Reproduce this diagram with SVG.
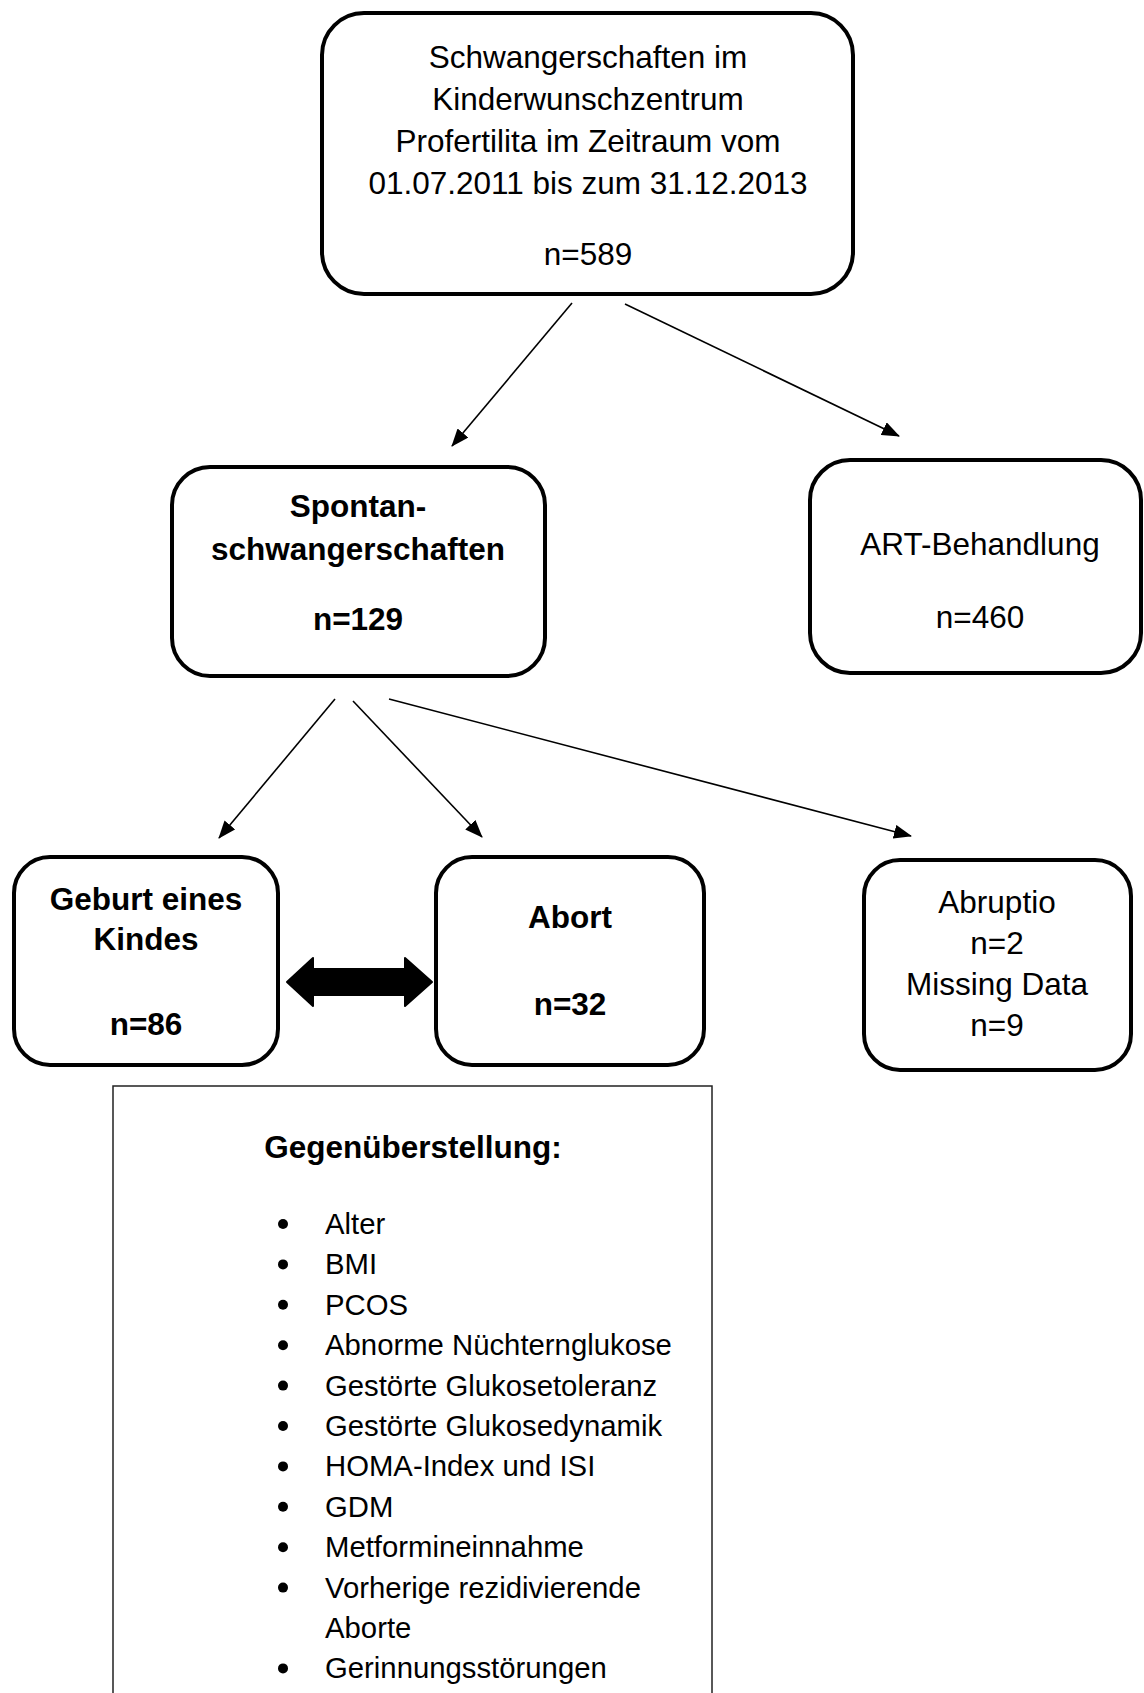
<svg xmlns="http://www.w3.org/2000/svg" width="1144" height="1693" viewBox="0 0 1144 1693">
<defs>
<style>
.box{fill:#fff;stroke:#000;stroke-width:4}
.t{font-family:"Liberation Sans",Arial,sans-serif;font-size:31.5px;fill:#000;text-anchor:middle}
.b{font-weight:bold}
.li{font-family:"Liberation Sans",Arial,sans-serif;font-size:29.3px;fill:#000}
.con{stroke:#000;stroke-width:1.6;fill:none;marker-end:url(#ah)}
</style>
<marker id="ah" markerUnits="userSpaceOnUse" markerWidth="18" markerHeight="14" refX="17" refY="7" orient="auto">
<path d="M0,0 L18,7 L0,14 z" fill="#000"/>
</marker>
</defs>
<rect width="1144" height="1693" fill="#fff"/>
<g id="connectors">
<line class="con" x1="572" y1="303" x2="452" y2="446"/>
<line class="con" x1="625" y1="304" x2="899" y2="436"/>
<line class="con" x1="335" y1="699" x2="219" y2="838"/>
<line class="con" x1="353" y1="701" x2="482" y2="837"/>
<line class="con" x1="389" y1="699" x2="911" y2="836"/>
<polygon points="287,982 313,958 313,969 405,969 405,958 432,982 405,1006 405,995 313,995 313,1006" fill="#000" stroke="#000" stroke-width="2" stroke-linejoin="round"/>
</g>
<g id="top">
<rect class="box" x="322" y="13" width="531" height="281" rx="42"/>
<text class="t" x="588" y="68">Schwangerschaften im</text>
<text class="t" x="588" y="110">Kinderwunschzentrum</text>
<text class="t" x="588" y="152">Profertilita im Zeitraum vom</text>
<text class="t" x="588" y="194">01.07.2011 bis zum 31.12.2013</text>
<text class="t" x="588" y="265">n=589</text>
</g>
<g id="spontan">
<rect class="box" x="172" y="467" width="373" height="209" rx="38"/>
<text class="t b" x="358" y="517">Spontan-</text>
<text class="t b" x="358" y="560">schwangerschaften</text>
<text class="t b" x="358" y="630">n=129</text>
</g>
<g id="art">
<rect class="box" x="810" y="460" width="331" height="213" rx="40"/>
<text class="t" x="980" y="555">ART-Behandlung</text>
<text class="t" x="980" y="628">n=460</text>
</g>
<g id="geburt">
<rect class="box" x="14" y="857" width="264" height="208" rx="36"/>
<text class="t b" x="146" y="910">Geburt eines</text>
<text class="t b" x="146" y="950">Kindes</text>
<text class="t b" x="146" y="1035">n=86</text>
</g>
<g id="abort">
<rect class="box" x="436" y="857" width="268" height="208" rx="36"/>
<text class="t b" x="570" y="928">Abort</text>
<text class="t b" x="570" y="1015">n=32</text>
</g>
<g id="abruptio">
<rect class="box" x="864" y="860" width="267" height="210" rx="36"/>
<text class="t" x="997" y="913">Abruptio</text>
<text class="t" x="997" y="954">n=2</text>
<text class="t" x="997" y="995">Missing Data</text>
<text class="t" x="997" y="1036">n=9</text>
</g>
<g id="gegenueberstellung">
<rect x="113" y="1086" width="599" height="640" fill="#fff" stroke="#222" stroke-width="1.5"/>
<text class="t b" x="413" y="1158">Gegenüberstellung:</text>
<g fill="#000">
<circle cx="283" cy="1224" r="5"/>
<circle cx="283" cy="1264.4" r="5"/>
<circle cx="283" cy="1304.8" r="5"/>
<circle cx="283" cy="1345.2" r="5"/>
<circle cx="283" cy="1385.6" r="5"/>
<circle cx="283" cy="1426" r="5"/>
<circle cx="283" cy="1466.4" r="5"/>
<circle cx="283" cy="1506.8" r="5"/>
<circle cx="283" cy="1547.2" r="5"/>
<circle cx="283" cy="1587.6" r="5"/>
<circle cx="283" cy="1668.4" r="5"/>
</g>
<text class="li" x="325" y="1234">Alter</text>
<text class="li" x="325" y="1274.4">BMI</text>
<text class="li" x="325" y="1314.8">PCOS</text>
<text class="li" x="325" y="1355.2">Abnorme Nüchternglukose</text>
<text class="li" x="325" y="1395.6">Gestörte Glukosetoleranz</text>
<text class="li" x="325" y="1436">Gestörte Glukosedynamik</text>
<text class="li" x="325" y="1476.4">HOMA-Index und ISI</text>
<text class="li" x="325" y="1516.8">GDM</text>
<text class="li" x="325" y="1557.2">Metformineinnahme</text>
<text class="li" x="325" y="1597.6">Vorherige rezidivierende</text>
<text class="li" x="325" y="1638">Aborte</text>
<text class="li" x="325" y="1678.4">Gerinnungsstörungen</text>
</g>
</svg>
